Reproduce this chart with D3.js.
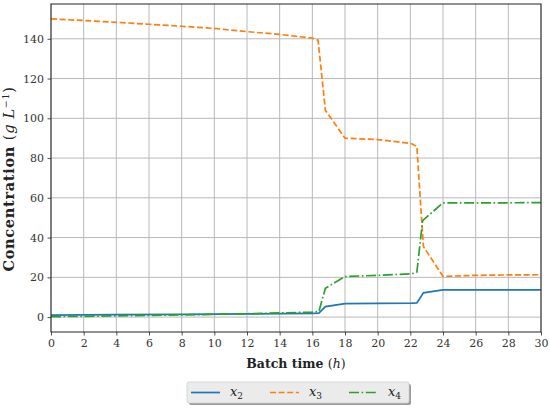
<!DOCTYPE html>
<html><head><meta charset="utf-8">
<script src="https://cdn.jsdelivr.net/npm/d3@7"></script>
<style>body{margin:0;background:#fff}svg{display:block}</style>
</head><body>
<script>
const tX2 = [0, 4, 8, 12, 16, 16.4, 16.8, 18, 20, 22.1, 22.4, 22.8, 24, 26, 28, 30];
const vX2 = [1.0, 1.2, 1.4, 1.6, 1.9, 2.0, 5.3, 6.8, 6.9, 7.0, 7.1, 12.2, 13.7, 13.7, 13.7, 13.7];
const tX3 = [0, 2, 4, 6, 8, 10, 12, 14, 16, 16.35, 16.8, 18, 20, 22.05, 22.4, 22.8, 24, 26, 28, 30];
const vX3 = [150, 149.2, 148.3, 147.3, 146.3, 145.2, 143.6, 142.2, 140.3, 139.3, 104, 90, 89.3, 87.3, 85.8, 35.5, 20.5, 21, 21.2, 21.3];
const tX4 = [0, 4, 8, 12, 16, 16.4, 16.8, 18, 20, 22.1, 22.4, 22.75, 24, 26, 28, 30];
const vX4 = [0.2, 0.6, 1.1, 1.7, 2.5, 2.8, 14.5, 20.4, 21, 21.8, 22.6, 48.5, 57.5, 57.5, 57.5, 57.6];
const xTicks = d3.range(0, 31, 2);
const yTicks = d3.range(0, 141, 20);
const seriesNames = ["x2", "x3", "x4"];

const W = 550, H = 409;
const m = {left: 51, right: 9, top: 4, bottom: 77};
const svg = d3.select("body").append("svg").attr("width", W).attr("height", H);
const x = d3.scaleLinear().domain([0, 30]).range([m.left, W - m.right]);
const y = d3.scaleLinear().domain([-7.5, 157.5]).range([H - m.bottom, m.top]);
const font = "'DejaVu Serif', 'Liberation Serif', serif";

// grid
const g = svg.append("g");
g.selectAll(".gx").data(xTicks).join("line")
  .attr("x1", d => x(d)).attr("x2", d => x(d)).attr("y1", y.range()[0]).attr("y2", y.range()[1])
  .attr("stroke", "#b8b8b8").attr("stroke-width", 1);
g.selectAll(".gy").data(yTicks).join("line")
  .attr("y1", d => y(d)).attr("y2", d => y(d)).attr("x1", x.range()[0]).attr("x2", x.range()[1])
  .attr("stroke", "#b8b8b8").attr("stroke-width", 1);

// lines
const colors = ["#1f77b4", "#ff7f0e", "#2ca02c"];
const dashes = [null, "6,2.6", "10,2.6,1.6,2.6"];
const data = [tX2.map((t,i)=>[t,vX2[i]]), tX3.map((t,i)=>[t,vX3[i]]), tX4.map((t,i)=>[t,vX4[i]])];
const line = d3.line().x(d => x(d[0])).y(d => y(d[1]));
svg.append("clipPath").attr("id","c").append("rect")
  .attr("x", m.left).attr("y", m.top).attr("width", W-m.left-m.right).attr("height", H-m.top-m.bottom);
data.forEach((d, i) => {
  svg.append("path").datum(d).attr("d", line).attr("fill", "none")
    .attr("stroke", colors[i]).attr("stroke-width", 1.7)
    .attr("stroke-dasharray", dashes[i]).attr("clip-path", "url(#c)");
});

// axes
const ax = svg.append("g").attr("transform", `translate(0,${H - m.bottom})`)
  .call(d3.axisBottom(x).tickValues(xTicks).tickSize(3.5).tickPadding(3.5).tickSizeOuter(0));
const ay = svg.append("g").attr("transform", `translate(${m.left},0)`)
  .call(d3.axisLeft(y).tickValues(yTicks).tickSize(3.5).tickPadding(3.5).tickSizeOuter(0));
[ax, ay].forEach(a => {
  a.select(".domain").remove();
  a.selectAll("text").attr("font-family", font).attr("font-size", 11).attr("fill", "#333");
  a.selectAll("line").attr("stroke", "#222").attr("stroke-width", 0.8);
});
// frame
svg.append("rect").attr("x", m.left).attr("y", m.top).attr("width", W-m.left-m.right).attr("height", H-m.top-m.bottom)
  .attr("fill", "none").attr("stroke", "#222").attr("stroke-width", 1);

// axis labels
const xl = svg.append("text").attr("x", 296).attr("y", 368)
  .attr("text-anchor", "middle").attr("font-family", font).attr("font-size", 12.5).attr("fill", "#222");
xl.append("tspan").attr("font-weight", "bold").text("Batch time ");
xl.append("tspan").text("(");
xl.append("tspan").attr("font-style", "italic").text("h");
xl.append("tspan").text(")");

const yl = svg.append("text").attr("transform", `translate(14,179) rotate(-90)`)
  .attr("text-anchor", "middle").attr("font-family", font).attr("font-size", 14.5)
  .attr("letter-spacing", 0.7).attr("fill", "#222");
yl.append("tspan").attr("font-weight", "bold").text("Concentration ");
yl.append("tspan").text("(");
yl.append("tspan").attr("font-style", "italic").text("g L");
yl.append("tspan").attr("font-size", 9.5).attr("dy", -5.5).text("−1");
yl.append("tspan").attr("dy", 5.5).text(")");

// legend
const lg = svg.append("g");
lg.append("rect").attr("x", 189).attr("y", 384).attr("width", 222).attr("height", 21).attr("rx", 2)
  .attr("fill", "#9a9a9a");
lg.append("rect").attr("x", 187).attr("y", 382).attr("width", 222).attr("height", 21).attr("rx", 2)
  .attr("fill", "#ebebeb").attr("stroke", "#cfcfcf").attr("stroke-width", 0.8);
const lx = [191, 270, 349];
seriesNames.forEach((n, i) => {
  lg.append("line").attr("x1", lx[i]).attr("x2", lx[i] + 29).attr("y1", 392.5).attr("y2", 392.5)
    .attr("stroke", colors[i]).attr("stroke-width", 1.7).attr("stroke-dasharray", dashes[i]);
  const t = lg.append("text").attr("x", lx[i] + 39).attr("y", 396).attr("font-family", font)
    .attr("font-size", 13).attr("fill", "#222");
  t.append("tspan").attr("font-style", "italic").text("x");
  t.append("tspan").attr("font-size", 9).attr("dy", 3).text(n.slice(1));
});
</script>
</body></html>
